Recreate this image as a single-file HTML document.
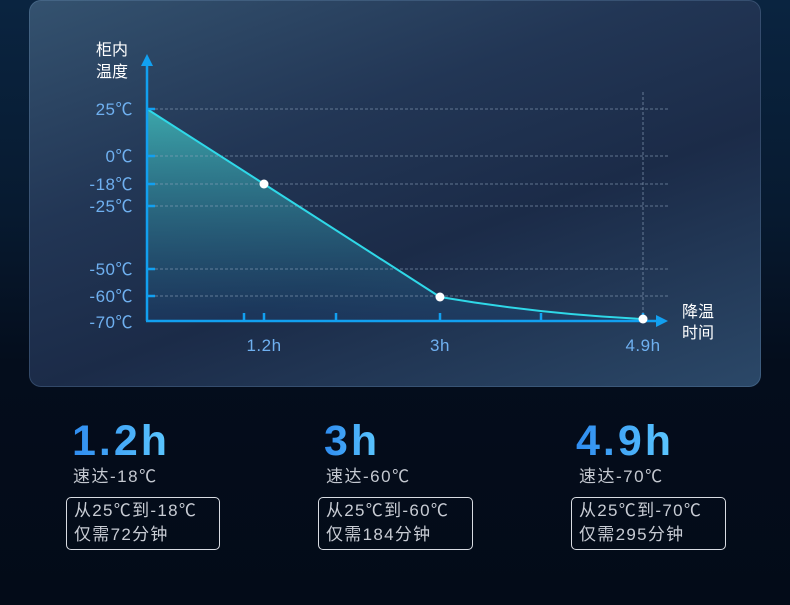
<!DOCTYPE html>
<html><head><meta charset="utf-8"><style>
body{margin:0;width:790px;height:605px;overflow:hidden;background:linear-gradient(180deg,#0a2440 0%,#071a30 35%,#040d1c 60%,#030b18 100%);font-family:"Liberation Sans","Noto Sans CJK SC",sans-serif;position:relative}
.panel{position:absolute;left:29px;top:0;width:732px;height:387px;border-radius:12px;background:linear-gradient(160deg,#34526f 0%,#223655 35%,#1b2b48 60%,#2b4868 100%);box-shadow:inset 0 0 0 1px rgba(120,160,200,.25)}
.big{position:absolute;top:416px;font-size:43px;font-weight:bold;letter-spacing:3px;background:linear-gradient(90deg,#2f8cf0,#5cc8ff);-webkit-background-clip:text;color:transparent;line-height:50px}
.sub{position:absolute;top:462px;font-size:17px;letter-spacing:1.5px;color:#c4c8d0}
.box{position:absolute;top:497px;height:53px;border:1px solid #d8dce2;border-radius:5px;color:#c8ccd4;font-size:17px;letter-spacing:1.3px;line-height:24px;padding:1px 0 0 7px;box-sizing:border-box;white-space:nowrap}
</style></head><body>
<div class="panel"></div>
<svg style="position:absolute;left:0;top:0" width="790" height="400">
<defs><linearGradient id="f" x1="0" y1="0" x2="0" y2="1"><stop offset="0" stop-color="#3fb8b8" stop-opacity=".85"/><stop offset="1" stop-color="#1b3d6a" stop-opacity=".5"/></linearGradient></defs>
<path d="M147,109 L264,184 L440,297 Q540,314 643,319 L643,321 L147,321Z" fill="url(#f)"/>
<g stroke="#8ea4bd" stroke-dasharray="3,2" stroke-width="0.8" opacity=".8">
<line x1="150" y1="109" x2="670" y2="109"/><line x1="150" y1="156" x2="670" y2="156"/><line x1="150" y1="184" x2="670" y2="184"/><line x1="150" y1="206" x2="670" y2="206"/><line x1="150" y1="269" x2="670" y2="269"/><line x1="150" y1="296" x2="670" y2="296"/><line x1="643" y1="92" x2="643" y2="321"/>
</g>
<path d="M147,109 L264,184 L440,297 Q540,314 643,319" fill="none" stroke="#2fd8e8" stroke-width="2"/>
<g stroke="#12a0f0" stroke-width="2.5" fill="none">
<line x1="147" y1="60" x2="147" y2="321"/><line x1="146" y1="321" x2="660" y2="321"/>
<line x1="147" y1="109" x2="155" y2="109"/><line x1="147" y1="156" x2="155" y2="156"/><line x1="147" y1="184" x2="155" y2="184"/><line x1="147" y1="206" x2="155" y2="206"/><line x1="147" y1="269" x2="155" y2="269"/><line x1="147" y1="296" x2="155" y2="296"/>
<line x1="244" y1="313" x2="244" y2="321"/><line x1="264" y1="313" x2="264" y2="321"/><line x1="336" y1="313" x2="336" y2="321"/><line x1="440" y1="313" x2="440" y2="321"/><line x1="541" y1="313" x2="541" y2="321"/><line x1="643" y1="313" x2="643" y2="321"/>
</g>
<path d="M141,66 L147,54 L153,66Z" fill="#12a0f0"/><path d="M656,315 L668,321 L656,327Z" fill="#12a0f0"/>
<circle cx="264" cy="184" r="4.5" fill="#fff"/><circle cx="440" cy="297" r="4.5" fill="#fff"/><circle cx="643" cy="319" r="4.5" fill="#fff"/>
<g font-family="Liberation Sans,Noto Sans CJK SC,sans-serif" font-size="17" letter-spacing="0.5" fill="#6fb0f0" text-anchor="end">
<text x="133" y="115">25℃</text><text x="133" y="162">0℃</text><text x="133" y="190">-18℃</text><text x="133" y="212">-25℃</text><text x="133" y="275">-50℃</text><text x="133" y="302">-60℃</text><text x="133" y="328">-70℃</text>
</g>
<g font-family="Liberation Sans,Noto Sans CJK SC,sans-serif" font-size="17" letter-spacing="0.5" fill="#6fb0f0" text-anchor="middle">
<text x="264" y="351">1.2h</text><text x="440" y="351">3h</text><text x="643" y="351">4.9h</text>
</g>
<g font-family="Liberation Sans,Noto Sans CJK SC,sans-serif" font-size="16" fill="#fff">
<text x="96" y="55">柜内</text><text x="96" y="77">温度</text><text x="682" y="317">降温</text><text x="682" y="338">时间</text>
</g>
</svg>
<div class="big" style="left:72px">1.2h</div><div class="sub" style="left:73px">速达-18℃</div>
<div class="box" style="left:66px;width:154px">从25℃到-18℃<br>仅需72分钟</div>
<div class="big" style="left:324px">3h</div><div class="sub" style="left:326px">速达-60℃</div>
<div class="box" style="left:318px;width:155px">从25℃到-60℃<br>仅需184分钟</div>
<div class="big" style="left:576px">4.9h</div><div class="sub" style="left:579px">速达-70℃</div>
<div class="box" style="left:571px;width:155px">从25℃到-70℃<br>仅需295分钟</div>
</body></html>
